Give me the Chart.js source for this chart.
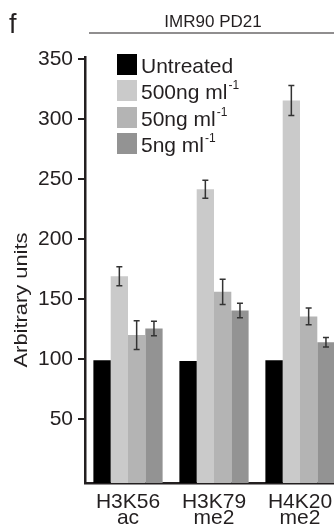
<!DOCTYPE html>
<html>
<head>
<meta charset="utf-8">
<script src="https://cdn.jsdelivr.net/npm/chart.js@4.4.1/dist/chart.umd.min.js"></script>
<style>
  html, body { margin: 0; padding: 0; background: #fff; overflow: hidden; }
  #wrap { width: 345px; height: 529px; }
</style>
</head>
<body>
<div id="wrap"><canvas id="histChart" width="345" height="529"></canvas></div>
<script>
// data
const categories = [['H3K56', 'ac'], ['H3K79', 'me2'], ['H4K20', 'me2']];
const seriesLabels = ['Untreated', '500ng ml^-1', '50ng ml^-1', '5ng ml^-1'];
const seriesColors = ['#000000', '#cacaca', '#b4b4b4', '#939393'];
const untreated = [99, 98.3, 99];
const ng500 = [169, 241.5, 315.5];
const ng50 = [120, 156, 135.5];
const ng5 = [125.5, 140.5, 114];
const errUntreated = [0, 0, 0];
const err500 = [8, 7.5, 12.5];
const err50 = [12, 10.5, 7];
const err5 = [6, 6, 4];
const yTicks = [50, 100, 150, 200, 250, 300, 350];
const yMin = -3.3, yMax = 351.7;

const ink = '#231f20';
const FONT = 'Arial, "Liberation Sans", Helvetica, sans-serif';

const values = [untreated, ng500, ng50, ng5];
const errors = [errUntreated, err500, err50, err5];

// error bars on top of the bars
const errorBars = {
  id: 'errorBars',
  afterDatasetsDraw(chart) {
    const ctx = chart.ctx, y = chart.scales.y;
    ctx.save();
    ctx.strokeStyle = '#333';
    ctx.lineWidth = 1.5;
    chart.data.datasets.forEach((ds, i) => {
      const meta = chart.getDatasetMeta(i);
      meta.data.forEach((bar, j) => {
        const e = errors[i][j];
        if (!e) return;
        const v = ds.data[j];
        const top = y.getPixelForValue(v + e), bot = y.getPixelForValue(v - e);
        ctx.beginPath();
        ctx.moveTo(bar.x, top); ctx.lineTo(bar.x, bot);
        ctx.moveTo(bar.x - 3, top); ctx.lineTo(bar.x + 3, top);
        ctx.moveTo(bar.x - 3, bot); ctx.lineTo(bar.x + 3, bot);
        ctx.stroke();
      });
    });
    ctx.restore();
  }
};

// panel letter, header, y title and legend
const decorations = {
  id: 'decorations',
  afterDraw(chart) {
    const ctx = chart.ctx;
    ctx.save();
    ctx.fillStyle = ink;
    ctx.textBaseline = 'alphabetic';

    ctx.font = '27px ' + FONT;
    ctx.textAlign = 'left';
    ctx.fillText('f', 9, 33);

    ctx.font = '17px ' + FONT;
    ctx.textAlign = 'center';
    ctx.fillText('IMR90 PD21', 213, 27);
    ctx.strokeStyle = ink;
    ctx.lineWidth = 1.2;
    ctx.beginPath();
    ctx.moveTo(89, 33); ctx.lineTo(345, 33);
    ctx.stroke();

    // y title
    ctx.save();
    ctx.translate(27, 300);
    ctx.rotate(-Math.PI / 2);
    ctx.font = '19px ' + FONT;
    const w = ctx.measureText('Arbitrary units').width;
    ctx.scale(135 / w, 1);
    ctx.textAlign = 'center';
    ctx.fillText('Arbitrary units', 0, 0);
    ctx.restore();

    // legend
    const rows = [54, 80, 107, 133];
    chart.data.datasets.forEach((ds, i) => {
      const top = rows[i];
      ctx.fillStyle = ds.backgroundColor;
      ctx.fillRect(117, top, 20, 21);
      ctx.fillStyle = ink;
      const parts = seriesLabels[i].split('^');
      ctx.textAlign = 'left';
      ctx.font = '21px ' + FONT;
      ctx.fillText(parts[0], 141, top + 19);
      if (parts[1]) {
        const w0 = ctx.measureText(parts[0]).width;
        ctx.font = '12px ' + FONT;
        ctx.fillText(parts[1], 141 + w0 + 1, top + 9);
      }
    });
    ctx.restore();
  }
};

const ctx = document.getElementById('histChart').getContext('2d');
const histChart = new Chart(ctx, {
  type: 'bar',
  data: {
    labels: categories,
    datasets: values.map((v, i) => ({
      label: seriesLabels[i],
      data: v,
      backgroundColor: seriesColors[i],
      borderWidth: 0,
      base: yMin,
      categoryPercentage: 0.805,
      barPercentage: 1.0
    }))
  },
  options: {
    responsive: false,
    animation: false,
    layout: { padding: { top: 57, left: 0, right: 2, bottom: 0 } },
    plugins: {
      legend: { display: false },
      tooltip: { enabled: false }
    },
    scales: {
      x: {
        grid: { display: false },
        border: { display: true, color: ink, width: 2.5 },
        ticks: {
          color: ink,
          font: { family: FONT, size: 21, lineHeight: 0.77 },
          padding: 3,
          maxRotation: 0,
          autoSkip: false
        },
        afterFit(scale) { scale.height = 46; }
      },
      y: {
        min: yMin,
        max: yMax,
        afterBuildTicks(scale) { scale.ticks = yTicks.map(v => ({ value: v })); },
        grid: {
          drawOnChartArea: false,
          drawTicks: true,
          tickLength: 7,
          color: ink,
          lineWidth: 2
        },
        border: { display: true, color: ink, width: 2.5 },
        ticks: {
          color: ink,
          font: { family: FONT, size: 21 },
          padding: 5
        },
        afterFit(scale) { scale.width = 85; }
      }
    }
  },
  plugins: [errorBars, decorations]
});
</script>
</body>
</html>
